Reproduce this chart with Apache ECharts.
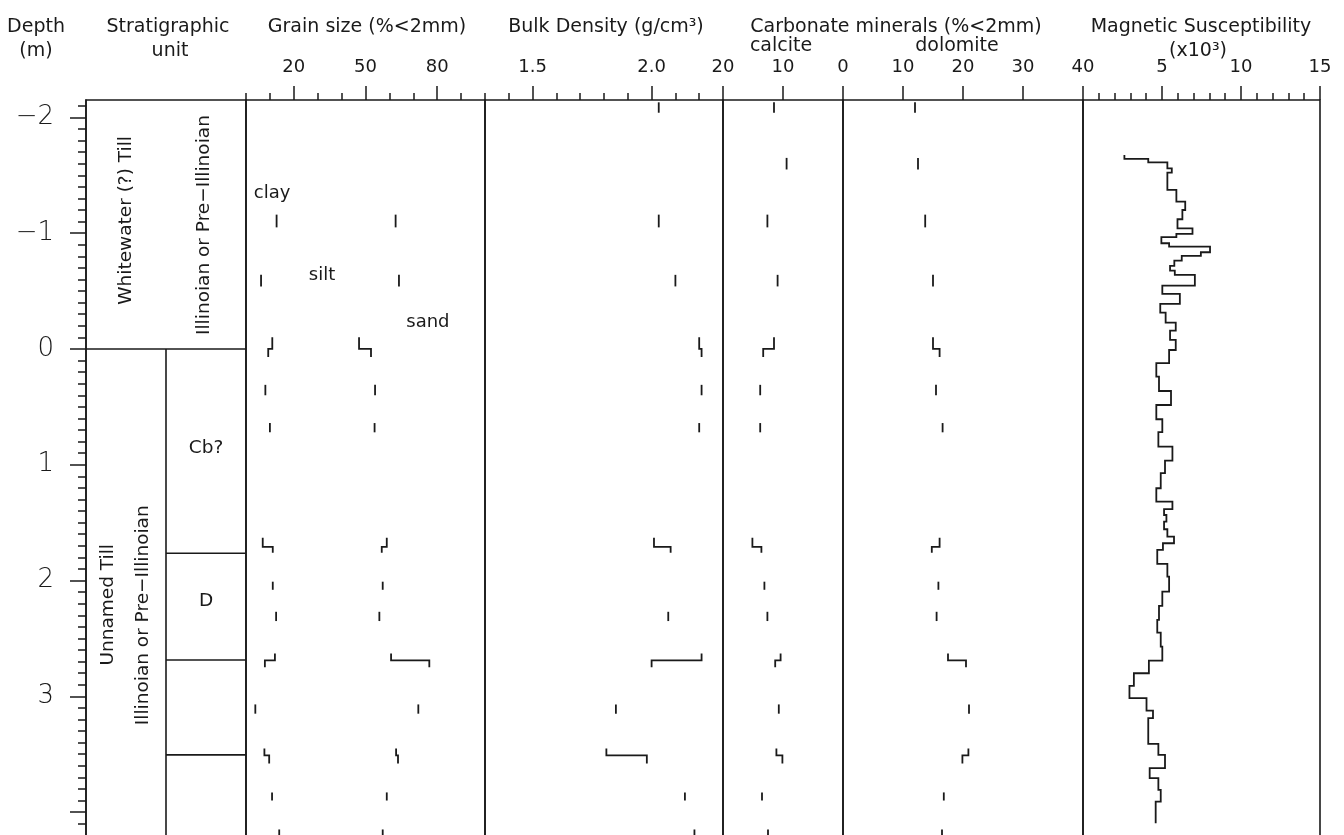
<!DOCTYPE html>
<html><head><meta charset="utf-8">
<script src="https://cdn.jsdelivr.net/npm/echarts@6/dist/echarts.min.js"></script>
<style>html,body{margin:0;padding:0;background:#fff}#c{width:1344px;height:835px}</style>
</head><body><div id="c"></div>
<script>
// ---------- DATA ----------
// sample depth intervals (m); contiguous intervals are joined by a step
const sampleTop    = [-2.13,-1.65,-1.16,-0.64,-0.10,0.00,0.31,0.64,1.63,1.71,2.01,2.27,2.63,2.69,3.07,3.45,3.51,3.83,4.15];
const sampleBottom = [-2.04,-1.55,-1.05,-0.54, 0.00,0.07,0.40,0.72,1.71,1.76,2.08,2.35,2.69,2.75,3.15,3.51,3.58,3.90,4.25];
// grain size (% < 2 mm): clay, clay+silt (cumulative)
const clay     = [null,null,12.8,6.3,11.0,9.3,8.1,10.0,7.0,11.2,11.2,12.6,12.1,7.9,3.9,7.7,9.7,10.9,13.9];
const claySilt = [null,null,62.6,64.0,47.3,52.3,54.0,53.8,58.9,56.8,57.2,55.8,60.7,76.7,72.1,62.8,63.6,58.9,57.2];
// bulk density (g/cm3)
const bulkDensity = [2.03,null,2.03,2.10,2.20,2.21,2.21,2.20,2.01,2.08,null,2.07,2.21,2.00,1.85,1.81,1.98,2.14,2.18];
// carbonate minerals (% < 2 mm)
const calcite  = [11.5,9.4,12.6,10.9,11.5,13.3,13.8,13.8,15.1,13.6,13.1,12.6,10.4,11.3,10.7,11.1,10.1,13.5,12.5];
const dolomite = [12.0,12.5,13.7,15.0,15.0,16.1,15.5,16.6,16.1,14.8,15.9,15.6,17.5,20.5,21.0,20.9,19.9,16.8,16.5];
// magnetic susceptibility (x10^3): interval boundaries (m) and values
const magDepth = [-1.675,-1.641,-1.612,-1.560,-1.522,-1.373,-1.272,-1.200,-1.120,-1.042,-0.993,-0.965,-0.913,-0.883,-0.835,-0.803,-0.763,-0.717,-0.676,-0.639,-0.547,-0.475,-0.389,-0.313,-0.227,-0.158,-0.078,0.009,0.123,0.239,0.363,0.484,0.607,0.719,0.844,0.965,1.073,1.203,1.319,1.384,1.434,1.491,1.557,1.621,1.678,1.736,1.857,1.966,2.096,2.219,2.340,2.450,2.571,2.692,2.801,2.910,3.016,3.124,3.189,3.411,3.506,3.621,3.707,3.808,3.909,4.096];
const magSusc  = [2.62,4.13,5.34,5.62,5.34,5.91,6.47,6.29,5.98,6.93,5.91,4.96,5.45,8.04,7.46,6.25,5.78,5.51,5.81,7.08,5.02,6.13,4.89,5.23,5.87,5.51,5.87,5.45,4.64,4.81,5.57,4.64,5.02,4.77,5.66,5.19,4.92,4.64,5.66,5.13,5.28,5.13,5.34,5.76,5.06,4.70,5.34,5.45,5.02,4.81,4.70,4.92,5.02,4.17,3.22,2.94,4.02,4.43,4.13,4.77,5.19,4.22,4.77,4.92,4.60];
// stratigraphy
const formationBase = 0;
const subunitBases = [1.764, 2.686, 3.506];
// tick labels
const depthTicks = [-2,-1,0,1,2,3];
const grainTicks = [20,50,80];
const densityTicks = [1.5,2.0];
const calciteTicks = [20,10,0];
const dolomiteTicks = [10,20,30,40];
const magTicks = [5,10,15];

// ---------- STYLE / LAYOUT ----------
const FONT = 'DejaVu Sans';
const INK = '#1a1a1a';
const GT = 100, GH = 770, DMIN = -2.15, DMAX = 4.5;
const cols = [
  {left:86, width:160},   // stratigraphy
  {left:246, width:239},  // grain size
  {left:485, width:238},  // bulk density
  {left:723, width:120},  // calcite
  {left:843, width:240},  // dolomite
  {left:1083, width:237}  // magnetic susceptibility
];
const range = (a, b, s) => { const r = []; for (let v = a; v <= b + 1e-9; v += s) r.push(Math.round(v * 100) / 100); return r; };

function stepGroups(values) {
  const groups = []; let cur = null;
  for (let i = 0; i < values.length; i++) {
    const v = values[i];
    if (v == null) { cur = null; continue; }
    if (cur && Math.abs(sampleTop[i] - sampleBottom[i - 1]) < 1e-9) {
      cur.push([v, sampleTop[i]], [v, sampleBottom[i]]);
    } else {
      cur = [[v, sampleTop[i]], [v, sampleBottom[i]]];
      groups.push(cur);
    }
  }
  return groups.map(c => ({coords: c}));
}
const magCoords = [];
magSusc.forEach((v, i) => { magCoords.push([v, magDepth[i]], [v, magDepth[i + 1]]); });

const stratLines = [
  {coords: [[0, formationBase], [1, formationBase]]},
  {coords: [[0.5, formationBase], [0.5, DMAX]]}
].concat(subunitBases.map(d => ({coords: [[0.5, d], [1, d]]})));

const stratText = [
  {name: 'Whitewater (?) Till', value: [0.25, -1.11], rot: 90},
  {name: 'Illinoian or Pre\u2212Illinoian', value: [0.74, -1.07], rot: 90},
  {name: 'Unnamed Till', value: [0.1375, 2.21], rot: 90},
  {name: 'Illinoian or Pre\u2212Illinoian', value: [0.356, 2.30], rot: 90},
  {name: 'Cb?', value: [0.75, 0.855], rot: 0},
  {name: 'D', value: [0.75, 2.18], rot: 0}
];
const grainText = [
  {name: 'clay', value: [10.9, -1.34]},
  {name: 'silt', value: [31.8, -0.64]},
  {name: 'sand', value: [76.1, -0.23]}
];

const tickStyle = {color: INK, width: 1.5};
const labelStyle = {fontFamily: FONT, fontSize: 18, color: INK, margin: 24};

function topAxis(gi, min, max, majors, minors, labels, extra) {
  const inv = !!(extra && extra.inverse);
  const axes = [{
    gridIndex: gi, type: 'value', min, max, position: 'top', inverse: inv,
    axisLine: {show: false, onZero: false}, splitLine: {show: false},
    axisTick: {show: true, length: 14, customValues: majors, lineStyle: tickStyle},
    axisLabel: Object.assign({show: true, customValues: labels}, labelStyle, extra && extra.label || {})
  }];
  if (minors) axes.push({
    gridIndex: gi, type: 'value', min, max, position: 'top', inverse: inv,
    axisLine: {show: false, onZero: false}, splitLine: {show: false},
    axisTick: {show: true, length: 7, customValues: minors, lineStyle: tickStyle},
    axisLabel: {show: false}
  });
  return axes;
}

const xAxis = [{gridIndex: 0, type: 'value', min: 0, max: 1, show: false, axisLine: {onZero: false}}] // 0
  .concat(topAxis(1, 0, 100, [20,50,80], [0,10,30,40,60,70,90,100], grainTicks))       // 1,2
  .concat(topAxis(2, 1.3, 2.3, [1.5,2.0], [1.3,1.4,1.6,1.7,1.8,1.9,2.1,2.2], densityTicks,
          {label: {formatter: v => Number(v).toFixed(1)}}))                            // 3,4
  .concat(topAxis(3, 0, 20, [0,10,20], null, calciteTicks, {inverse: true}))            // 5
  .concat(topAxis(4, 0, 40, [0,10,20,30,40], null, dolomiteTicks))                     // 6
  .concat(topAxis(5, 0, 15, [0,5,10,15], range(1,14,1).filter(v => v % 5), magTicks));   // 7,8

const yAxis = [
  {gridIndex: 0, type: 'value', min: DMIN, max: DMAX, inverse: true, position: 'left',
   axisLine: {show: true, onZero: false, lineStyle: tickStyle}, splitLine: {show: false},
   axisTick: {show: true, length: 16, customValues: [-2,-1,0,1,2,3,4], lineStyle: tickStyle},
   axisLabel: {show: true, customValues: depthTicks, margin: 32, fontSize: 26, fontFamily: FONT,
               fontWeight: 200, color: INK, formatter: v => String(v).replace('-', '\u2212')}},
  {gridIndex: 0, type: 'value', min: DMIN, max: DMAX, inverse: true, position: 'left',
   axisLine: {show: false, onZero: false}, splitLine: {show: false},
   axisTick: {show: true, length: 8, customValues: range(-2.1, 4.4, 0.1), lineStyle: tickStyle},
   axisLabel: {show: false}}
];
for (let g = 1; g < cols.length; g++) yAxis.push({gridIndex: g, type: 'value', min: DMIN, max: DMAX,
  inverse: true, show: false, axisLine: {onZero: false}});

const lineSty = {color: INK, width: 1.8, opacity: 1, curveness: 0};
function profile(xi, yi, values) {
  return {type: 'lines', coordinateSystem: 'cartesian2d', xAxisIndex: xi, yAxisIndex: yi,
          polyline: true, silent: true, lineStyle: lineSty, data: stepGroups(values)};
}
function textSeries(xi, yi, data, size) {
  return {type: 'scatter', xAxisIndex: xi, yAxisIndex: yi, symbolSize: 0, silent: true,
          itemStyle: {color: INK, opacity: 1},
          data: data.map(d => ({name: d.name, value: d.value,
            label: {show: true, position: 'inside', rotate: d.rot || 0, formatter: '{b}',
                    fontFamily: FONT, fontSize: size, color: INK, opacity: 1}}))};
}

const head = (text, x, y, size) => ({type: 'text', x, y, silent: true,
  style: {text, fontFamily: FONT, fontSize: size || 19, fill: INK,
          align: 'center', verticalAlign: 'middle', textAlign: 'center', textVerticalAlign: 'middle'}});

const option = {
  animation: false,
  backgroundColor: '#fff',
  grid: cols.map(c => ({left: c.left, width: c.width, top: GT, height: GH, show: true,
    borderColor: INK, borderWidth: 1.6, backgroundColor: 'transparent',
    containLabel: false, outerBoundsMode: 'none'})),
  xAxis, yAxis,
  graphic: [
    head('Depth', 36, 27), head('(m)', 36, 51),
    head('Stratigraphic', 168, 27), head('unit', 170, 51),
    head('Grain size (%<2mm)', 367, 27),
    head('Bulk Density (g/cm\u00b3)', 606, 27),
    head('Carbonate minerals (%<2mm)', 896, 27),
    head('calcite', 781, 46), head('dolomite', 957, 46),
    head('Magnetic Susceptibility', 1201, 27),
    head('(x10\u00b3)', 1198, 51)
  ],
  series: [
    {type: 'lines', coordinateSystem: 'cartesian2d', xAxisIndex: 0, yAxisIndex: 0, polyline: true,
     silent: true, lineStyle: {color: INK, width: 1.6, opacity: 1}, data: stratLines},
    textSeries(0, 0, stratText, 18.5),
    profile(1, 2, clay),
    profile(1, 2, claySilt),
    textSeries(1, 2, grainText, 18),
    profile(3, 3, bulkDensity),
    profile(5, 4, calcite),
    profile(6, 5, dolomite),
    {type: 'lines', coordinateSystem: 'cartesian2d', xAxisIndex: 7, yAxisIndex: 6, polyline: true,
     silent: true, lineStyle: lineSty, data: [{coords: magCoords}]}
  ]
};
const chart = echarts.init(document.getElementById('c'), null, {renderer: 'canvas'});
chart.setOption(option);
</script></body></html>
